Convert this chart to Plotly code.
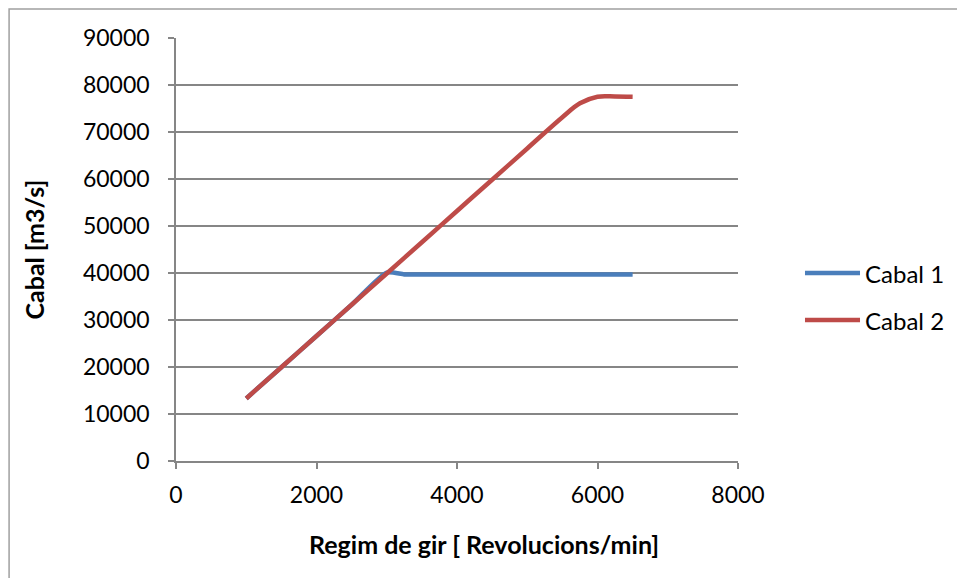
import plotly.graph_objects as go

# Engine speed (rpm) and flow values for the two series
rpm_1 = [1000, 1500, 2000, 2500, 3000, 3250, 3500, 4000, 4500, 5000, 5500, 6000, 6500]
cabal_1 = [13300, 19950, 26600, 33250, 40100, 39700, 39700, 39700, 39700, 39700, 39700, 39700, 39700]

rpm_2 = [1000, 1500, 2000, 2500, 3000, 3500, 4000, 4500, 5000, 5500, 5750, 6000, 6250, 6500]
cabal_2 = [13300, 19950, 26600, 33250, 39900, 46550, 53200, 59850, 66500, 73150, 76100, 77500, 77550, 77500]

series_names = ["Cabal 1", "Cabal 2"]
series_colors = ["#4A7EBB", "#BE4B48"]

x_ticks = [0, 2000, 4000, 6000, 8000]
y_ticks = [0, 10000, 20000, 30000, 40000, 50000, 60000, 70000, 80000, 90000]

FONT = "Lato"
GRID = "#868686"

fig = go.Figure()
fig.add_trace(go.Scatter(x=rpm_1, y=cabal_1, mode="lines", name=series_names[0],
                         line=dict(color=series_colors[0], width=4.5, shape="spline", smoothing=0.6)))
fig.add_trace(go.Scatter(x=rpm_2, y=cabal_2, mode="lines", name=series_names[1],
                         line=dict(color=series_colors[1], width=4.5, shape="spline", smoothing=1.0)))

fig.update_layout(
    width=957, height=578,
    margin=dict(l=176, r=219, t=38, b=117),
    paper_bgcolor="white", plot_bgcolor="white",
    showlegend=False,
    font=dict(family=FONT, size=23, color="black"),
    xaxis=dict(range=[0, 8000], tickvals=x_ticks, ticktext=[str(v) for v in x_ticks],
               showgrid=False, zeroline=False, showline=True, linecolor=GRID, linewidth=1.5,
               ticks="outside", ticklen=6, tickwidth=1.5, tickcolor=GRID,
               ticklabelstandoff=7, fixedrange=True),
    yaxis=dict(range=[0, 90000], tickvals=y_ticks, ticktext=[str(v) for v in y_ticks],
               showgrid=True, gridcolor=GRID, gridwidth=1.5, zeroline=False,
               showline=True, linecolor=GRID, linewidth=1.5,
               ticks="outside", ticklen=6, tickwidth=1.5, tickcolor=GRID,
               ticklabelstandoff=14, fixedrange=True),
)

# Axis titles
fig.add_annotation(text="<b>Regim de gir [ Revolucions/min]</b>", xref="paper", yref="paper",
                   x=0.548, y=-0.196, showarrow=False, xanchor="center", yanchor="middle",
                   font=dict(family=FONT, size=25))
fig.add_annotation(text="<b>Cabal [m3/s]</b>", xref="paper", yref="paper",
                   x=-0.2544, y=0.5, textangle=-90, showarrow=False,
                   xanchor="center", yanchor="middle", font=dict(family=FONT, size=25))

# Legend drawn at the right of the plot
legend_y = [0.4444, 0.3333]
for name, color, ly in zip(series_names, series_colors, legend_y):
    fig.add_shape(type="line", xref="paper", yref="paper", x0=1.1192, x1=1.2171, y0=ly, y1=ly,
                  line=dict(color=color, width=4.5))
    fig.add_annotation(text=name, xref="paper", yref="paper", x=1.222, y=ly, showarrow=False,
                       xanchor="left", yanchor="middle", font=dict(family=FONT, size=24))

# Chart frame
fig.add_shape(type="rect", xref="paper", yref="paper", x0=-0.297, y0=-0.6, x1=1.6, y1=1.0686,
              line=dict(color="#A0A0A0", width=1.5), layer="below")

fig.write_html("out.html")
